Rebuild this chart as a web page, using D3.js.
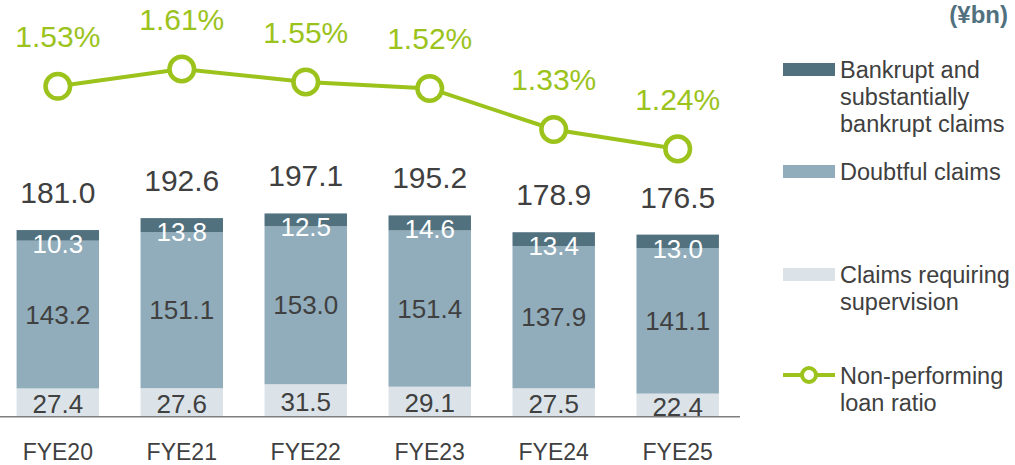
<!DOCTYPE html>
<html>
<head>
<meta charset="utf-8">
<script src="https://cdn.jsdelivr.net/npm/d3@7"></script>
<style>
  body { margin: 0; background: #fff; }
  svg { display: block; font-family: "Liberation Sans", Arial, sans-serif; }
</style>
</head>
<body>
<div id="chart"></div>
<script>
const years = ["FYE20", "FYE21", "FYE22", "FYE23", "FYE24", "FYE25"];
const supervision = [27.4, 27.6, 31.5, 29.1, 27.5, 22.4];
const doubtful = [143.2, 151.1, 153.0, 151.4, 137.9, 141.1];
const bankrupt = [10.3, 13.8, 12.5, 14.6, 13.4, 13.0];
const totals = [181.0, 192.6, 197.1, 195.2, 178.9, 176.5];
const ratio = [1.53, 1.61, 1.55, 1.52, 1.33, 1.24];

const colors = {
  bankrupt: "#51717f",
  doubtful: "#91adbb",
  supervision: "#dbe3e8",
  line: "#9bc31c",
  text: "#404040",
};

const width = 1015, height = 465;
const baseY = 416.7;

const svg = d3.select("#chart").append("svg")
  .attr("width", width)
  .attr("height", height);

const x = d3.scaleBand()
  .domain(years)
  .range([-4.5, 740])
  .paddingInner(0.335)
  .paddingOuter(0.17);

const y = d3.scaleLinear().domain([0, 400]).range([baseY, 4]);
const yr = d3.scaleLinear().domain([0, 1.911]).range([baseY, 4]);

// stacked bars
const rows = years.map((yr_, i) => ({
  year: yr_,
  supervision: supervision[i],
  doubtful: doubtful[i],
  bankrupt: bankrupt[i],
}));
const keys = ["supervision", "doubtful", "bankrupt"];
const stack = d3.stack().keys(keys)(rows);

svg.append("g").selectAll("g")
  .data(stack)
  .join("g")
  .attr("fill", (d) => colors[d.key])
  .selectAll("rect")
  .data((d) => d)
  .join("rect")
  .attr("x", (d) => x(d.data.year))
  .attr("width", x.bandwidth())
  .attr("y", (d) => y(d[1]))
  .attr("height", (d) => y(d[0]) - y(d[1]));

// axis line
svg.append("line")
  .attr("x1", 0).attr("x2", 740)
  .attr("y1", baseY).attr("y2", baseY)
  .attr("stroke", "#7f7f7f")
  .attr("stroke-width", 1.5);

// x labels
svg.append("g").selectAll("text")
  .data(years)
  .join("text")
  .attr("x", (d) => x(d) + x.bandwidth() / 2)
  .attr("y", 460)
  .attr("text-anchor", "middle")
  .attr("font-size", 23)
  .attr("fill", colors.text)
  .text((d) => d);

// segment labels
const cx = (i) => x(years[i]) + x.bandwidth() / 2;
const segLabels = svg.append("g").attr("text-anchor", "middle").attr("font-size", 26);

segLabels.selectAll(".sup")
  .data(supervision)
  .join("text")
  .attr("x", (d, i) => cx(i))
  .attr("y", (d) => y(d / 2))
  .attr("dy", "0.4em")
  .attr("fill", colors.text)
  .text((d) => d.toFixed(1));

segLabels.selectAll(".dbt")
  .data(doubtful)
  .join("text")
  .attr("x", (d, i) => cx(i))
  .attr("y", (d, i) => y(supervision[i] + d / 2))
  .attr("dy", "0.35em")
  .attr("fill", colors.text)
  .text((d) => d.toFixed(1));

segLabels.selectAll(".bkr")
  .data(bankrupt)
  .join("text")
  .attr("x", (d, i) => cx(i))
  .attr("y", (d, i) => y(supervision[i] + doubtful[i] + d) + 23)
  .attr("fill", "#fff")
  .text((d) => d.toFixed(1));

// totals
svg.append("g").selectAll("text")
  .data(totals)
  .join("text")
  .attr("x", (d, i) => cx(i))
  .attr("y", (d) => y(d) - 27)
  .attr("text-anchor", "middle")
  .attr("font-size", 30)
  .attr("fill", colors.text)
  .text((d) => d.toFixed(1));

// ratio line
const line = d3.line()
  .x((d, i) => cx(i))
  .y((d) => yr(d));

svg.append("path")
  .datum(ratio)
  .attr("d", line)
  .attr("fill", "none")
  .attr("stroke", colors.line)
  .attr("stroke-width", 4);

svg.append("g").selectAll("circle")
  .data(ratio)
  .join("circle")
  .attr("cx", (d, i) => cx(i))
  .attr("cy", (d) => yr(d))
  .attr("r", 12.3)
  .attr("fill", "#fff")
  .attr("stroke", colors.line)
  .attr("stroke-width", 4.5);

svg.append("g").selectAll("text")
  .data(ratio)
  .join("text")
  .attr("x", (d, i) => cx(i))
  .attr("y", (d) => yr(d) - 39)
  .attr("text-anchor", "middle")
  .attr("font-size", 30)
  .attr("fill", colors.line)
  .text((d) => d.toFixed(2) + "%");

// unit
svg.append("text")
  .attr("x", 1008)
  .attr("y", 23)
  .attr("text-anchor", "end")
  .attr("font-size", 24)
  .attr("font-weight", "bold")
  .attr("fill", "#51717f")
  .text("(¥bn)");

// legend
const legendItems = [
  { key: "bankrupt", lines: ["Bankrupt and", "substantially", "bankrupt claims"], y: 63 },
  { key: "doubtful", lines: ["Doubtful claims"], y: 165 },
  { key: "supervision", lines: ["Claims requiring", "supervision"], y: 268 },
  { key: "line", lines: ["Non-performing", "loan ratio"], y: 369 },
];

const legend = svg.append("g");
legendItems.forEach((item) => {
  const g = legend.append("g");
  if (item.key === "line") {
    g.append("line")
      .attr("x1", 783).attr("x2", 835)
      .attr("y1", item.y + 6).attr("y2", item.y + 6)
      .attr("stroke", colors.line)
      .attr("stroke-width", 4);
    g.append("circle")
      .attr("cx", 809).attr("cy", item.y + 6)
      .attr("r", 7)
      .attr("fill", "#fff")
      .attr("stroke", colors.line)
      .attr("stroke-width", 4);
  } else {
    g.append("rect")
      .attr("x", 783).attr("y", item.y)
      .attr("width", 52).attr("height", 13)
      .attr("fill", colors[item.key]);
  }
  g.append("text")
    .attr("x", 840)
    .attr("font-size", 23.5)
    .attr("fill", colors.text)
    .selectAll("tspan")
    .data(item.lines)
    .join("tspan")
    .attr("x", 840)
    .attr("y", (d, i) => item.y + 15 + i * 27)
    .text((d) => d);
});
</script>
</body>
</html>
